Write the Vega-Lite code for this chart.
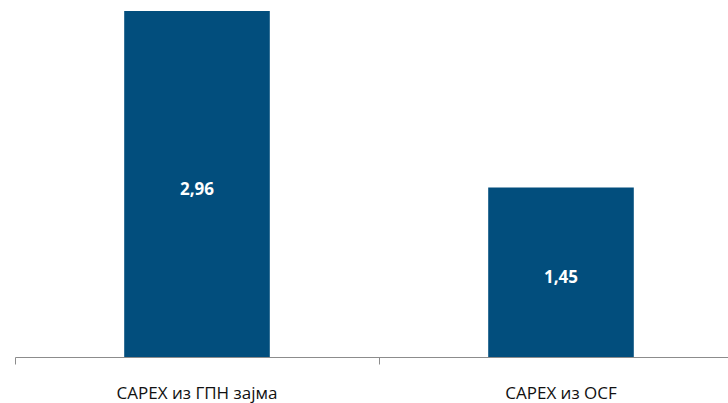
{
  "$schema": "https://vega.github.io/schema/vega-lite/v6.json",
  "width": 728,
  "height": 346,
  "autosize": {"type": "none"},
  "padding": {"left": 15, "top": 11, "right": 0, "bottom": 46},
  "background": "white",
  "config": {
    "view": {"stroke": null},
    "locale": {"number": {"decimal": ",", "thousands": ".", "grouping": [3], "currency": ["", ""]}}
  },
  "data": {"values": [
    {"category": "CAPEX из ГПН зајма", "value": 2.96},
    {"category": "CAPEX из OCF", "value": 1.45}
  ]},
  "encoding": {
    "x": {
      "field": "category", "type": "nominal", "sort": null,
      "scale": {"paddingInner": 0, "paddingOuter": 0},
      "axis": {
        "title": null, "labelAngle": 0, "bandPosition": 0,
        "domainColor": "#8c8c8c", "tickColor": "#8c8c8c", "tickSize": 7,
        "labelFont": "Open Sans", "labelFontSize": 17, "labelColor": "#111111",
        "labelPadding": 21, "labelBound": false, "labelOverlap": false
      }
    }
  },
  "layer": [
    {
      "mark": {"type": "bar", "width": {"band": 0.4}, "color": "#024e7d"},
      "encoding": {
        "y": {"field": "value", "type": "quantitative", "scale": {"domain": [0, 2.96], "nice": false}, "axis": null}
      }
    },
    {
      "transform": [{"calculate": "datum.value / 2", "as": "mid"}],
      "mark": {"type": "text", "color": "white", "font": "Open Sans", "fontWeight": "bold", "fontSize": 17, "baseline": "middle", "dy": 6},
      "encoding": {
        "y": {"field": "mid", "type": "quantitative", "scale": {"domain": [0, 2.96], "nice": false}},
        "text": {"field": "value", "type": "quantitative", "format": ".2f"}
      }
    }
  ]
}
